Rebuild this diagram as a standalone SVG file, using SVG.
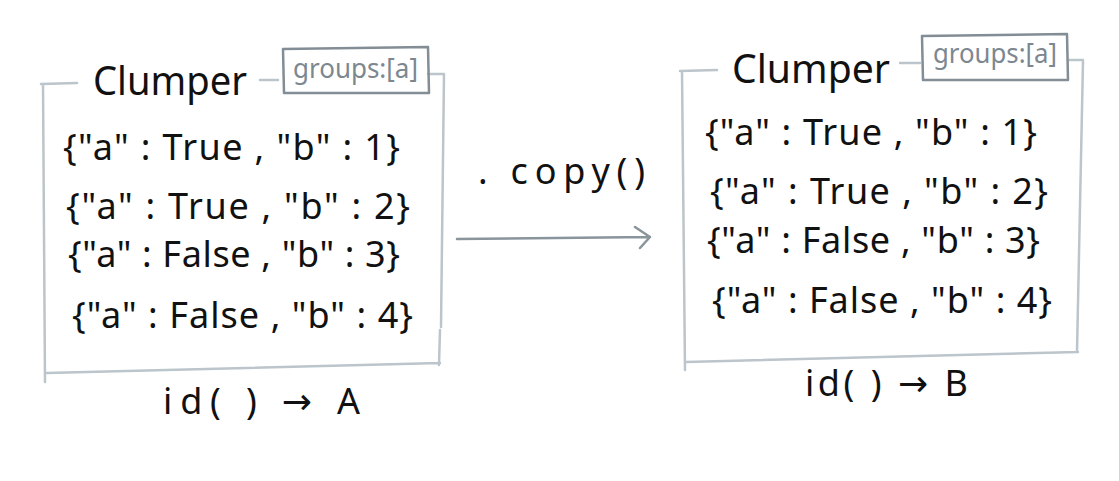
<svg xmlns="http://www.w3.org/2000/svg" width="1119" height="481" viewBox="0 0 1119 481">
  <style>
    .frame { fill: none; stroke: #bcc5cb; stroke-width: 2.5; stroke-linecap: round; stroke-linejoin: round; }
    .tag { fill: none; stroke: #838d95; stroke-width: 2.5; stroke-linejoin: round; }
    .title { font-family: "Noto Sans", "DejaVu Sans", sans-serif; font-size: 40px; fill: #111; }
    .tagtext { font-family: "Noto Sans", "DejaVu Sans", sans-serif; font-size: 27px; fill: #7d8790; }
    .row { font-family: "Noto Sans", "DejaVu Sans", sans-serif; font-size: 36px; fill: #111; }
    .ident { font-family: "Noto Sans", "DejaVu Sans", sans-serif; font-size: 36px; fill: #111; }
    .conn { fill: none; stroke: #8a949b; stroke-width: 2.5; stroke-linecap: round; stroke-linejoin: round; }
    .connlabel { font-family: "Noto Sans", "DejaVu Sans", sans-serif; font-size: 36px; fill: #111; }
  </style>

  <!-- left collection -->
  <g id="clumper-a">
    <path class="frame" d="M41 84 L77 83 M43 84 L45 382 M47 373 L440 363 M444 74 L441 327 M440 330 L439 365 M260 80 L278 80 M428 74 L444 74"/>
    <text class="title" x="93" y="95" textLength="154" lengthAdjust="spacingAndGlyphs">Clumper</text>
    <path class="tag" d="M283 49 L428 47 L429 93 L284 93 Z"/>
    <text class="tagtext" x="293" y="78" textLength="125" lengthAdjust="spacingAndGlyphs">groups:[a]</text>
    <text class="row" x="63" y="160" textLength="337" lengthAdjust="spacing">{"a" : True , "b" : 1}</text>
    <text class="row" x="66" y="219" textLength="344" lengthAdjust="spacing">{"a" : True , "b" : 2}</text>
    <text class="row" x="68" y="267" textLength="332" lengthAdjust="spacing">{"a" : False , "b" : 3}</text>
    <text class="row" x="72" y="328" textLength="341" lengthAdjust="spacing">{"a" : False , "b" : 4}</text>
    <text class="ident" x="163" y="414" textLength="197" lengthAdjust="spacing">id( ) → A</text>
  </g>

  <!-- right collection -->
  <g id="clumper-b">
    <path class="frame" d="M680 71 L717 70 M682 71 L685 370 M686 362 L1078 352 M1083 61 L1077 352 M900 63 L920 63 M1068 60 L1083 60"/>
    <text class="title" x="732" y="83" textLength="158" lengthAdjust="spacingAndGlyphs">Clumper</text>
    <path class="tag" d="M922 36 L1067 34 L1068 80 L923 80 Z"/>
    <text class="tagtext" x="933" y="63" textLength="124" lengthAdjust="spacingAndGlyphs">groups:[a]</text>
    <text class="row" x="705" y="145" textLength="332" lengthAdjust="spacing">{"a" : True , "b" : 1}</text>
    <text class="row" x="710" y="204" textLength="338" lengthAdjust="spacing">{"a" : True , "b" : 2}</text>
    <text class="row" x="707" y="253" textLength="333" lengthAdjust="spacing">{"a" : False , "b" : 3}</text>
    <text class="row" x="712" y="313" textLength="340" lengthAdjust="spacing">{"a" : False , "b" : 4}</text>
    <text class="ident" x="805" y="396" textLength="163" lengthAdjust="spacing">id( ) → B</text>
  </g>

  <!-- copy connector -->
  <g id="connectors">
    <path class="conn" d="M457 239 L650 237 M635 227 L650 237 L640 248"/>
    <text class="connlabel" x="478" y="184" textLength="167" lengthAdjust="spacing">. copy()</text>
  </g>
</svg>
